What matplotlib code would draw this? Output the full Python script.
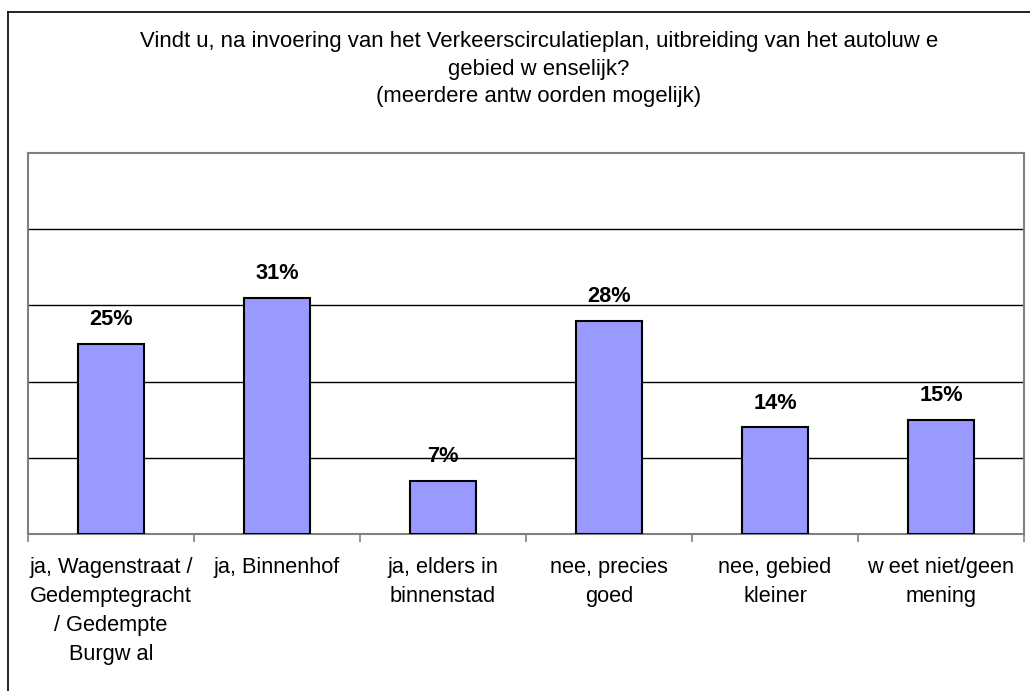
import matplotlib.pyplot as plt
from matplotlib.lines import Line2D

plt.rcParams['font.family'] = ['Liberation Sans', 'DejaVu Sans']

# survey answers (% of respondents)
categories = [
    'ja, Wagenstraat /\nGedemptegracht\n/ Gedempte\nBurgw al',
    'ja, Binnenhof',
    'ja, elders in\nbinnenstad',
    'nee, precies\ngoed',
    'nee, gebied\nkleiner',
    'w eet niet/geen\nmening',
]
percentages = [25, 31, 7, 28, 14, 15]
title_lines = [
    'Vindt u, na invoering van het Verkeerscirculatieplan, uitbreiding van het autoluw e',
    'gebied w enselijk?',
    '(meerdere antw oorden mogelijk)',
]

W, H = 1030, 691
fig = plt.figure(figsize=(W / 100, H / 100), dpi=100)
ax = fig.add_axes([28 / W, 1 - 534 / H, (1024 - 28) / W, (534 - 153) / H])

x = range(len(percentages))
ax.bar(x, percentages, width=0.4, color='#9999FF', edgecolor='black', linewidth=1.5, zorder=3)

for i, p in enumerate(percentages):
    ax.annotate(f'{p}%', (i, p), xytext=(0, 13.5), textcoords='offset points',
                ha='center', va='baseline', fontsize=15.7, fontweight='bold')

ax.set_xlim(-0.5, len(percentages) - 0.5)
ax.set_ylim(0, 50)
ax.set_yticks([10, 20, 30, 40])
ax.yaxis.grid(True, color='black', linewidth=1.0, zorder=0)
ax.tick_params(axis='y', length=0, labelleft=False)

ax.set_xticks(list(x))
ax.set_xticklabels(categories, fontsize=15.7, linespacing=1.5)
ax.tick_params(axis='x', which='major', length=0, pad=16.5)
ax.set_xticks([i + 0.5 for i in range(-1, len(percentages))], minor=True)
ax.tick_params(axis='x', which='minor', length=6, width=1.2, color='#808080', direction='out')

for s in ax.spines.values():
    s.set_color('#808080')
    s.set_linewidth(1.5)

for line, yb in zip(title_lines, [47, 75, 102]):
    fig.text(539 / W, 1 - yb / H, line, ha='center', va='baseline', fontsize=15.9)

# outer chart frame (right and bottom edges fall outside the image)
fig.add_artist(Line2D([8 / W, 8 / W], [0, 1 - 12 / H], color='black', linewidth=1.2))
fig.add_artist(Line2D([8 / W, 1], [1 - 12 / H, 1 - 12 / H], color='black', linewidth=1.2))

fig.savefig('out.png', dpi=100)
